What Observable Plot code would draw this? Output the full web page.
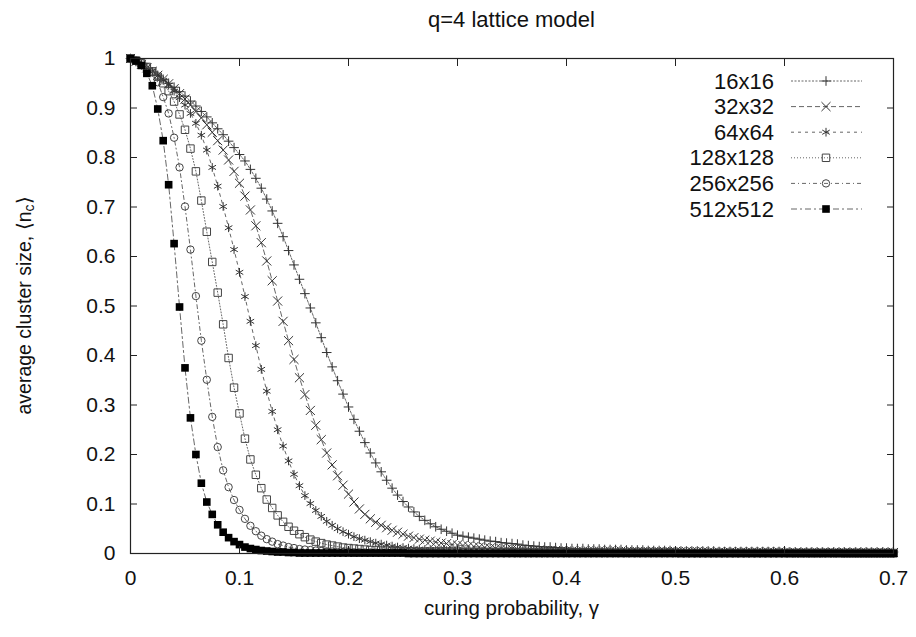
<!DOCTYPE html>
<html><head><meta charset="utf-8">
<script src="https://cdn.jsdelivr.net/npm/d3@7"></script>
<script src="https://cdn.jsdelivr.net/npm/@observablehq/plot@0.6"></script>
<style>
body{margin:0;background:#fff;}
#wrap{position:relative;width:916px;height:637px;}
</style></head><body><div id="wrap"></div>
<script>
const title = "q=4 lattice model";
const xLabel = "curing probability, γ";
const yLabelMain = "average cluster size, ⟨n";
const yLabelSub = "c";
const yLabelEnd = "⟩";
const seriesNames = ["16x16","32x32","64x64","128x128","256x256","512x512"];
const gammaStep = 0.005;
const xTicks = [0,0.1,0.2,0.3,0.4,0.5,0.6,0.7];
const yTicks = [0,0.1,0.2,0.3,0.4,0.5,0.6,0.7,0.8,0.9,1];

const s16 = [
1.000,0.994,0.987,0.980,0.973,0.966,0.958,0.950,0.942,0.933,0.924,0.914,0.904,0.893,0.882,0.870,0.858,0.846,0.833,0.820,0.806,
0.793,0.776,0.758,0.738,0.716,0.692,0.667,0.640,0.612,0.583,0.554,0.525,0.496,0.466,0.436,0.406,0.377,0.349,0.322,0.296,
0.271,0.247,0.224,0.203,0.183,0.165,0.148,0.132,0.118,0.105,0.094,0.084,0.075,0.067,0.060,0.054,0.049,0.045,0.041,0.037,
0.035,0.033,0.031,0.029,0.027,0.025,0.024,0.022,0.021,0.020,0.019,0.017,0.016,0.015,0.014,0.013,0.013,0.012,0.011,0.011,
0.010,0.010,0.010,0.009,0.009,0.009,0.008,0.008,0.008,0.008,0.007,0.007,0.007,0.007,0.006,0.006,0.006,0.006,0.006,0.005,
0.005,0.005,0.005,0.005,0.005,0.005,0.005,0.004,0.004,0.004,0.004,0.004,0.004,0.004,0.004,0.004,0.004,0.004,0.004,0.004,
0.003,0.003,0.003,0.003,0.003,0.003,0.003,0.003,0.003,0.003,0.003,0.003,0.003,0.003,0.003,0.003,0.003,0.003,0.003,0.003];

const s32 = [
1.000,0.994,0.988,0.981,0.974,0.966,0.958,0.949,0.939,0.929,0.918,0.906,0.893,0.880,0.866,0.851,0.834,0.815,0.795,0.772,0.748,
0.722,0.694,0.662,0.628,0.591,0.551,0.510,0.469,0.430,0.392,0.355,0.321,0.289,0.259,0.230,0.203,0.179,0.157,0.138,0.120,
0.104,0.090,0.079,0.070,0.063,0.057,0.052,0.047,0.043,0.039,0.035,0.032,0.029,0.027,0.025,0.023,0.021,0.020,0.018,0.017,
0.016,0.015,0.014,0.013,0.012,0.011,0.010,0.010,0.009,0.009,0.008,0.008,0.007,0.007,0.007,0.006,0.006,0.006,0.005,0.005,
0.005,0.005,0.005,0.005,0.005,0.005,0.005,0.005,0.005,0.005,0.004,0.004,0.004,0.004,0.004,0.004,0.004,0.004,0.004,0.004,
0.004,0.004,0.004,0.004,0.004,0.003,0.003,0.003,0.003,0.003,0.003,0.003,0.003,0.003,0.003,0.003,0.003,0.003,0.003,0.003,
0.002,0.002,0.002,0.002,0.002,0.002,0.002,0.002,0.002,0.002,0.002,0.002,0.002,0.002,0.002,0.002,0.002,0.002,0.002,0.002];

const s64 = [
1.000,0.995,0.989,0.982,0.974,0.965,0.956,0.946,0.934,0.921,0.906,0.889,0.869,0.845,0.815,0.780,0.742,0.701,0.658,0.614,0.568,
0.519,0.469,0.420,0.372,0.328,0.287,0.250,0.217,0.187,0.160,0.137,0.117,0.101,0.087,0.075,0.065,0.057,0.050,0.044,0.039,
0.034,0.030,0.027,0.024,0.021,0.019,0.017,0.015,0.013,0.012,0.011,0.010,0.009,0.008,0.008,0.007,0.007,0.006,0.006,0.005,
0.005,0.005,0.005,0.005,0.005,0.005,0.005,0.005,0.005,0.005,0.004,0.004,0.004,0.004,0.004,0.004,0.004,0.004,0.004,0.004,
0.003,0.003,0.003,0.003,0.003,0.003,0.003,0.003,0.003,0.003,0.003,0.003,0.003,0.003,0.003,0.003,0.003,0.003,0.003,0.003,
0.002,0.002,0.002,0.002,0.002,0.002,0.002,0.002,0.002,0.002,0.002,0.002,0.002,0.002,0.002,0.002,0.002,0.002,0.002,0.002,
0.001,0.001,0.001,0.001,0.001,0.001,0.001,0.001,0.001,0.001,0.001,0.001,0.001,0.001,0.001,0.001,0.001,0.001,0.001,0.001];

const s128 = [
1.000,0.996,0.990,0.983,0.974,0.963,0.950,0.934,0.913,0.887,0.856,0.818,0.772,0.713,0.650,0.589,0.527,0.463,0.395,0.335,0.283,
0.232,0.190,0.159,0.132,0.109,0.092,0.077,0.064,0.054,0.046,0.039,0.033,0.028,0.024,0.021,0.018,0.016,0.014,0.012,0.011,
0.010,0.009,0.008,0.007,0.007,0.006,0.006,0.005,0.005,0.004,0.004,0.004,0.004,0.004,0.004,0.004,0.004,0.004,0.004,0.004,
0.003,0.003,0.003,0.003,0.003,0.003,0.003,0.003,0.003,0.003,0.003,0.003,0.003,0.003,0.003,0.002,0.002,0.002,0.002,0.002,
0.002,0.002,0.002,0.002,0.002,0.002,0.002,0.002,0.002,0.002,0.002,0.002,0.002,0.002,0.002,0.002,0.002,0.002,0.002,0.002,
0.001,0.001,0.001,0.001,0.001,0.001,0.001,0.001,0.001,0.001,0.001,0.001,0.001,0.001,0.001,0.001,0.001,0.001,0.001,0.001,
0.001,0.001,0.001,0.001,0.001,0.001,0.001,0.001,0.001,0.001,0.001,0.001,0.001,0.001,0.001,0.001,0.001,0.001,0.001,0.001];

const s256 = [
1.000,0.996,0.991,0.983,0.972,0.952,0.922,0.889,0.840,0.780,0.701,0.614,0.520,0.430,0.351,0.276,0.215,0.168,0.134,0.108,0.088,
0.070,0.056,0.045,0.036,0.029,0.024,0.019,0.016,0.013,0.011,0.009,0.008,0.007,0.006,0.005,0.004,0.004,0.003,0.003,0.003,
0.002,0.002,0.002,0.002,0.002,0.002,0.002,0.002,0.002,0.002,0.002,0.002,0.002,0.002,0.002,0.002,0.002,0.002,0.002,0.002,
0.002,0.002,0.002,0.002,0.002,0.002,0.002,0.002,0.002,0.002,0.001,0.001,0.001,0.001,0.001,0.001,0.001,0.001,0.001,0.001,
0.001,0.001,0.001,0.001,0.001,0.001,0.001,0.001,0.001,0.001,0.001,0.001,0.001,0.001,0.001,0.001,0.001,0.001,0.001,0.001,
0.001,0.001,0.001,0.001,0.001,0.001,0.001,0.001,0.001,0.001,0.001,0.001,0.001,0.001,0.001,0.001,0.001,0.001,0.001,0.001,
0.001,0.001,0.001,0.001,0.001,0.001,0.001,0.001,0.001,0.001,0.000,0.000,0.000,0.000,0.000,0.000,0.000,0.000,0.000,0.000];

const s512 = [
1.000,0.995,0.986,0.970,0.945,0.898,0.834,0.745,0.626,0.498,0.375,0.274,0.200,0.142,0.104,0.079,0.058,0.043,0.032,0.024,0.018,
0.013,0.010,0.008,0.006,0.005,0.004,0.003,0.003,0.002,0.002,0.001,0.001,0.001,0.001,0.001,0.001,0.001,0.001,0.001,0.001,
0.001,0.001,0.001,0.001,0.001,0.001,0.001,0.001,0.001,0.001,0.000,0.000,0.000,0.000,0.000,0.000,0.000,0.000,0.000,0.000,
0.000,0.000,0.000,0.000,0.000,0.000,0.000,0.000,0.000,0.000,0.000,0.000,0.000,0.000,0.000,0.000,0.000,0.000,0.000,0.000,
0.000,0.000,0.000,0.000,0.000,0.000,0.000,0.000,0.000,0.000,0.000,0.000,0.000,0.000,0.000,0.000,0.000,0.000,0.000,0.000,
0.000,0.000,0.000,0.000,0.000,0.000,0.000,0.000,0.000,0.000,0.000,0.000,0.000,0.000,0.000,0.000,0.000,0.000,0.000,0.000,
0.000,0.000,0.000,0.000,0.000,0.000,0.000,0.000,0.000,0.000,0.000,0.000,0.000,0.000,0.000,0.000,0.000,0.000,0.000,0.000];

const seriesValues = [s16, s32, s64, s128, s256, s512];

// styles (kept apart from the data)
const styles = [
  {symbol: "plus",     d3s: d3.symbolPlus,     r: 3.2, fill: "none", stroke: "#333", dash: "2,1.5"},
  {symbol: "times",    d3s: d3.symbolTimes,    r: 4.2, fill: "none", stroke: "#333", dash: "5,3"},
  {symbol: "asterisk", d3s: d3.symbolAsterisk, r: 4.1, fill: "none", stroke: "#333", dash: "3,4"},
  {symbol: "square",   d3s: d3.symbolSquare,   r: 4.2, fill: "none", stroke: "#444", dash: "1,2"},
  {symbol: "circle",   d3s: d3.symbolCircle,   r: 3.7, fill: "none", stroke: "#444", dash: "4,3,1,3"},
  {symbol: "square",   d3s: d3.symbolSquare,   r: 4.3, fill: "#000", stroke: "none", dash: "6,3,2,3"}
];
const lineColor = "#666";
const fontFam = "'Liberation Sans', Arial, Helvetica, sans-serif";
const fmt = d => String(d);

const rowsBySeries = seriesValues.map((vals, k) =>
  vals.map((v, i) => ({gamma: Math.round(i * gammaStep * 1000) / 1000, n: v, series: seriesNames[k]})));

const seriesMarks = rowsBySeries.flatMap((rows, k) => {
  const st = styles[k];
  return [
    Plot.line(rows, {x: "gamma", y: "n", stroke: lineColor, strokeWidth: 1, strokeDasharray: st.dash}),
    Plot.dot(rows, {x: "gamma", y: "n", symbol: st.symbol, r: st.r, fill: st.fill, stroke: st.stroke, strokeWidth: 1})
  ];
});

const chart = Plot.plot({
  width: 916, height: 637,
  marginLeft: 130, marginRight: 23, marginTop: 58, marginBottom: 84,
  x: {domain: [0, 0.7]},
  y: {domain: [0, 1]},
  style: {fontFamily: fontFam, fontSize: "21px", color: "#111", background: "#fff", overflow: "visible"},
  marks: [
    ...seriesMarks,
    Plot.frame({stroke: "#222", strokeWidth: 1.2}),
    Plot.axisX(xTicks, {anchor: "bottom", tickSize: 0, tickPadding: 17, tickFormat: fmt, label: null}),
    Plot.axisX(xTicks, {anchor: "bottom", tickSize: -7, fill: "none", label: null, stroke: "#222"}),
    Plot.axisX(xTicks, {anchor: "top", tickSize: -7, fill: "none", label: null, stroke: "#222"}),
    Plot.axisY(yTicks, {anchor: "left", tickSize: 0, tickPadding: 15, tickFormat: fmt, label: null}),
    Plot.axisY(yTicks, {anchor: "left", tickSize: -7, fill: "none", label: null, stroke: "#222"}),
    Plot.axisY(yTicks, {anchor: "right", tickSize: -7, fill: "none", label: null, stroke: "#222"})
  ]
});
document.getElementById("wrap").appendChild(chart);

const svg = d3.select(chart);
const cx = (130 + 916 - 23) / 2;
svg.append("text").attr("x", cx).attr("y", 19).attr("text-anchor", "middle")
  .attr("dominant-baseline", "central").attr("fill", "#111").style("font-size", "22px").text(title);
svg.append("text").attr("x", cx).attr("y", 607).attr("text-anchor", "middle")
  .attr("dominant-baseline", "central").attr("fill", "#111").style("font-size", "20.5px").text(xLabel);
const yl = svg.append("text").attr("transform", "translate(24,305.5) rotate(-90)")
  .attr("text-anchor", "middle").attr("dominant-baseline", "central").attr("fill", "#111").style("font-size", "19.5px");
yl.append("tspan").text(yLabelMain);
yl.append("tspan").attr("dy", 5).style("font-size", "14px").text(yLabelSub);
yl.append("tspan").attr("dy", -5).text(yLabelEnd);

// legend (gnuplot-style, inside the frame, top-right)
const lg = svg.append("g");
const legTop = 81, legStep = 25.6, legTextRight = 774, legX1 = 791, legX2 = 862, legSym = 826;
seriesNames.forEach((name, k) => {
  const st = styles[k];
  const y = legTop + k * legStep;
  lg.append("text").attr("x", legTextRight).attr("y", y).attr("text-anchor", "end")
    .attr("dominant-baseline", "central").attr("fill", "#111").style("font-size", "22px").text(name);
  lg.append("line").attr("x1", legX1).attr("x2", legX2).attr("y1", y).attr("y2", y)
    .attr("stroke", lineColor).attr("stroke-dasharray", st.dash);
  lg.append("path").attr("transform", `translate(${legSym},${y})`)
    .attr("d", d3.symbol(st.d3s, Math.PI * st.r * st.r)())
    .attr("fill", st.fill).attr("stroke", st.stroke).attr("stroke-width", 1);
});
</script></body></html>
